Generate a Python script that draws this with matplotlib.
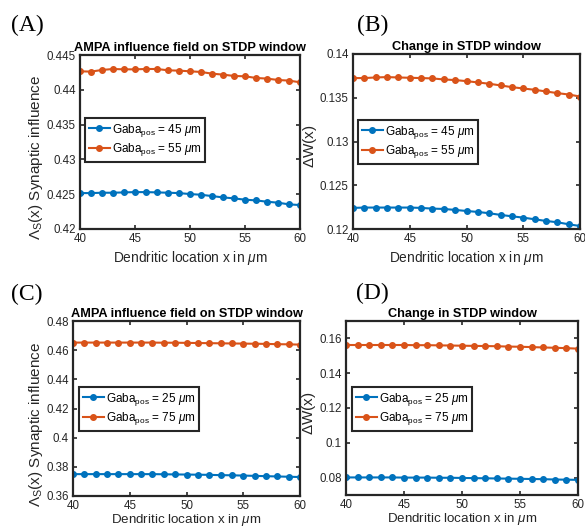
import numpy as np
import matplotlib as mpl
import matplotlib.pyplot as plt

mpl.rcParams["font.family"] = ["Liberation Sans", "DejaVu Sans"]
mpl.rcParams["mathtext.fontset"] = "custom"
mpl.rcParams["mathtext.rm"] = "Liberation Sans"
mpl.rcParams["mathtext.it"] = "Liberation Sans:italic"

x = list(range(40, 61))

# panel A: AMPA influence, Gaba at 45 / 55 um
a_45 = [0.42516, 0.42516, 0.42521, 0.42521, 0.42526, 0.42530, 0.42530, 0.42526, 0.42521,
        0.42516, 0.42502, 0.42492, 0.42473, 0.42454, 0.42440, 0.42421, 0.42411, 0.42392,
        0.42378, 0.42354, 0.42344]
a_55 = [0.44266, 0.44261, 0.44285, 0.44299, 0.44294, 0.44294, 0.44299, 0.44299, 0.44280,
        0.44275, 0.44266, 0.44256, 0.44232, 0.44218, 0.44199, 0.44194, 0.44170, 0.44161,
        0.44141, 0.44132, 0.44108]

# panel B: change in STDP window, Gaba at 45 / 55 um
b_45 = [0.12241, 0.12245, 0.12245, 0.12245, 0.12245, 0.12245, 0.12241, 0.12233, 0.12229,
        0.12218, 0.12206, 0.12195, 0.12180, 0.12161, 0.12145, 0.12130, 0.12111, 0.12092,
        0.12077, 0.12054, 0.12034]
b_55 = [0.13725, 0.13725, 0.13732, 0.13736, 0.13732, 0.13728, 0.13725, 0.13721, 0.13709,
        0.13702, 0.13690, 0.13675, 0.13660, 0.13641, 0.13621, 0.13606, 0.13591, 0.13572,
        0.13553, 0.13537, 0.13514]

# panel C: AMPA influence, Gaba at 25 / 75 um
c_25 = [0.3750, 0.3750, 0.3750, 0.3750, 0.3750, 0.3750, 0.3750, 0.3750, 0.3749, 0.3748,
        0.3747, 0.3746, 0.3745, 0.3743, 0.3742, 0.3740, 0.3738, 0.3736, 0.3734, 0.3732,
        0.3730]
c_75 = [0.4652, 0.4652, 0.4652, 0.4652, 0.4652, 0.4652, 0.4652, 0.4652, 0.4651, 0.4651,
        0.4650, 0.4649, 0.4648, 0.4647, 0.4646, 0.4645, 0.4644, 0.4643, 0.4641, 0.4640,
        0.4638]

# panel D: change in STDP window, Gaba at 25 / 75 um
d_25 = [0.0801, 0.0801, 0.0801, 0.0801, 0.0801, 0.0800, 0.0800, 0.0800, 0.0799, 0.0799,
        0.0798, 0.0797, 0.0796, 0.0795, 0.0794, 0.0793, 0.0792, 0.0791, 0.0789, 0.0788,
        0.0787]
d_75 = [0.1562, 0.1562, 0.1562, 0.1562, 0.1562, 0.1562, 0.1561, 0.1561, 0.1560, 0.1559,
        0.1558, 0.1557, 0.1556, 0.1555, 0.1553, 0.1552, 0.1550, 0.1548, 0.1546, 0.1544,
        0.1541]

blue = "#0072BD"
orange = "#D95319"
W, H = 585, 530

fig = plt.figure(figsize=(5.85, 5.3), dpi=100)


def box(l, t, r, b):
    return [l / W, 1 - b / H, (r - l) / W, (b - t) / H]


panels = [
    dict(rect=box(80, 55, 300, 229), ys=(a_45, a_55), pos=(45, 55), ylim=(0.42, 0.445),
         yt=np.arange(0.42, 0.4451, 0.005), title="AMPA influence field on STDP window",
         ylabel=r"$\Lambda_{\rm S}$(x) Synaptic influence", leg=(85, 118),
         tag="(A)", tagpos=(11, 25), xpad=3, xfs=9.9, ly=0.41),
    dict(rect=box(353, 54, 580, 229), ys=(b_45, b_55), pos=(45, 55), ylim=(0.12, 0.14),
         yt=np.arange(0.12, 0.1401, 0.005), title="Change in STDP window",
         ylabel=r"$\Delta$W(x)", leg=(358, 120), tag="(B)", tagpos=(357, 25), xpad=3,
         xfs=9.9, ly=0.47),
    dict(rect=box(73, 321, 300, 496), ys=(c_25, c_75), pos=(25, 75), ylim=(0.36, 0.48),
         yt=np.arange(0.36, 0.4801, 0.02), title="AMPA influence field on STDP window",
         ylabel=r"$\Lambda_{\rm S}$(x) Synaptic influence", leg=(79, 387),
         tag="(C)", tagpos=(11, 294), xpad=0, xfs=9.6, ly=0.41),
    dict(rect=box(346, 321, 578, 495), ys=(d_25, d_75), pos=(25, 75), ylim=(0.07, 0.17),
         yt=np.arange(0.08, 0.1601, 0.02), title="Change in STDP window",
         ylabel=r"$\Delta$W(x)", leg=(352, 387), tag="(D)", tagpos=(356, 293), xpad=0,
         xfs=9.6, ly=0.47),
]

for p in panels:
    ax = fig.add_axes(p["rect"])
    for yv, g, c in zip(p["ys"], p["pos"], (blue, orange)):
        ax.plot(x, yv, "-o", color=c, lw=1.5, ms=4,
                label=r"Gaba$_{\rm pos}$ = %d $\mu$m" % g)
    ax.set_xlim(40, 60)
    ax.set_ylim(*p["ylim"])
    ax.set_xticks([40, 45, 50, 55, 60])
    ax.set_yticks(p["yt"])
    ax.set_yticklabels(["%g" % round(v, 4) for v in p["yt"]])
    ax.tick_params(direction="in", top=True, right=True, labelsize=8.3,
                   colors="#262626", width=1.2, length=3, pad=3)
    for s in ax.spines.values():
        s.set_linewidth(1.6)
        s.set_color("#262626")
    ax.set_title(p["title"], fontsize=9.2, fontweight="bold", pad=3)
    ax.set_xlabel(r"Dendritic location x in $\mu$m", fontsize=p["xfs"], color="#262626",
                  labelpad=p["xpad"])
    ax.set_ylabel(p["ylabel"], fontsize=11, color="#262626", labelpad=1)
    ax.yaxis.label.set_y(p["ly"])
    leg = ax.legend(loc="upper left", bbox_to_anchor=(p["leg"][0] / W, 1 - p["leg"][1] / H),
                    bbox_transform=fig.transFigure, fontsize=8.5, fancybox=False,
                    framealpha=1, edgecolor="#262626", handlelength=1.8,
                    handletextpad=0.2, borderpad=0.3, labelspacing=0.25,
                    borderaxespad=0)
    leg.get_frame().set_linewidth(1.5)
    fig.text(p["tagpos"][0] / W, 1 - p["tagpos"][1] / H, p["tag"],
             family="Liberation Serif", fontsize=17, va="center", ha="left")

fig.savefig("out.png", dpi=100)
